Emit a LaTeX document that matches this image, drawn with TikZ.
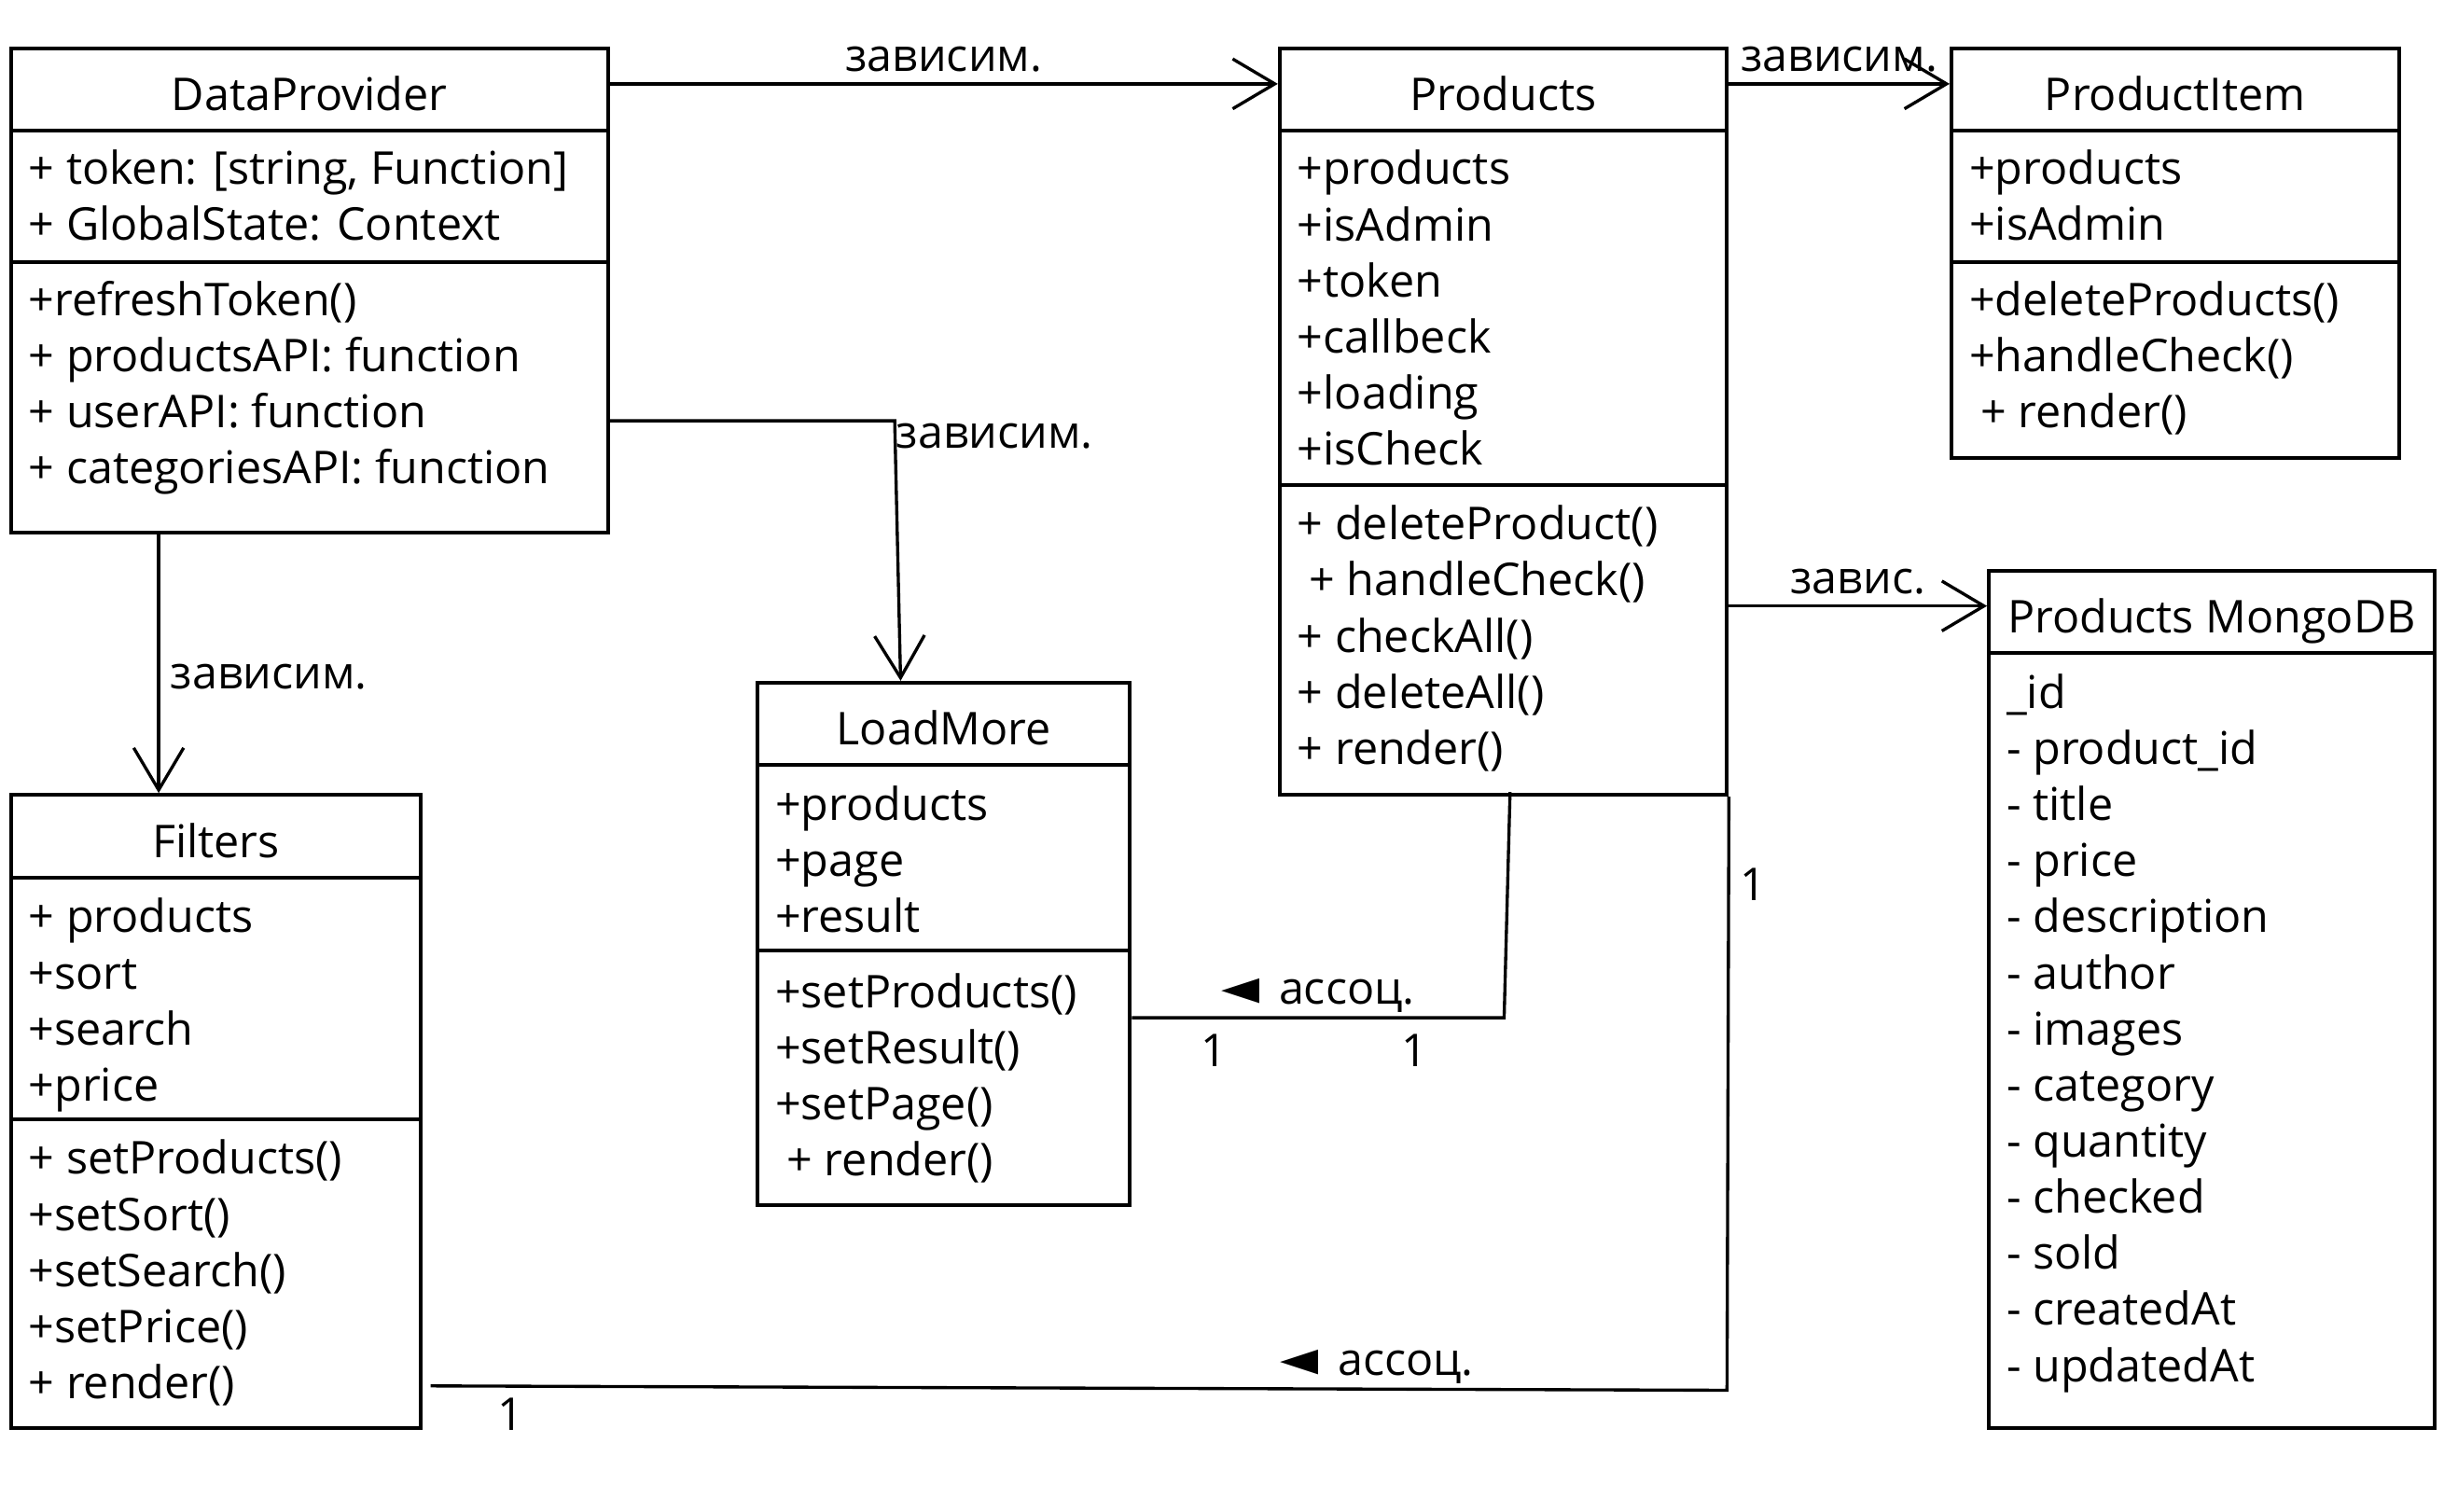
\documentclass[tikz,border=0pt]{standalone}
\usepackage{fontspec}
\setmainfont{Open Sans}
\newfontfamily\symfont{DejaVu Sans}
\usetikzlibrary{arrows.meta,calc,fit}

\begin{document}
\begin{tikzpicture}[x=0.5pt, y=-0.5pt,
    font=\fontsize{14.5}{18}\selectfont,
    box/.style={draw, line width=1.2pt, inner sep=0pt},
    sep/.style={line width=1.2pt},
    title/.style={anchor=base, inner sep=0pt},
    rows/.style={anchor=north west, align=left, inner sep=0pt},
    dep/.style={line width=1pt, -{Straight Barb[length=13.5pt, width=16pt]}},
    assoc/.style={line width=1pt},
    lbl/.style={inner sep=0.3333em}]
  \useasboundingbox (0,0) rectangle (1568,970);

  % class boxes
  \node [box, fit={(7,31) (390,342)}] (dp) {};
  \node [box, fit={(821,31) (1108,510)}] (pr) {};
  \node [box, fit={(1252,31) (1539,294)}] (pi) {};
  \node [box, fit={(1276,366) (1562,916)}] (mg) {};
  \node [box, fit={(7,510) (270,916)}] (fl) {};
  \node [box, fit={(486,438) (725,773)}] (lm) {};

  \draw [sep] (7,84) -- (390,84);
  \draw [sep] (7,168) -- (390,168);
  \draw [sep] (821,84) -- (1108,84);
  \draw [sep] (821,311) -- (1108,311);
  \draw [sep] (1252,84) -- (1539,84);
  \draw [sep] (1252,168) -- (1539,168);
  \draw [sep] (1276,419) -- (1562,419);
  \draw [sep] (7,563) -- (270,563);
  \draw [sep] (7,718) -- (270,718);
  \draw [sep] (486,491) -- (725,491);
  \draw [sep] (486,610) -- (725,610);

  % DataProvider
  \node [title] (dp-t) at (198.5,71) {DataProvider};
  \node [rows] (dp-a) at (18,92.8) {\strut + token: [string, Function]\\+ GlobalState: Context};
  \node [rows] (dp-m) at (18,176.8) {\strut +refreshToken()\\+ productsAPI: function\\+ userAPI: function\\+ categoriesAPI: function};

  % Products
  \node [title] (pr-t) at (964.5,71) {Products};
  \node [rows] (pr-a) at (832,92.8) {\strut +products\\+isAdmin\\+token\\+callbeck\\+loading\\+isCheck};
  \node [rows] (pr-m) at (832,320.8) {\strut + deleteProduct()\\\ + handleCheck()\\+ checkAll()\\+ deleteAll()\\+ render()};

  % ProductItem
  \node [title] (pi-t) at (1395.5,71) {ProductItem};
  \node [rows] (pi-a) at (1263,92.8) {\strut +products\\+isAdmin};
  \node [rows] (pi-m) at (1263,176.8) {\strut +deleteProducts()\\+handleCheck()\\\ + render()};

  % Products MongoDB
  \node [title] (mg-t) at (1419,406) {Products MongoDB};
  \node [rows] (mg-a) at (1287,428.8) {\strut \_id\\- product\_id\\- title\\- price\\- description\\- author\\- images\\- category\\- quantity\\- checked\\- sold\\- createdAt\\- updatedAt};

  % Filters
  \node [title] (fl-t) at (138.5,550) {Filters};
  \node [rows] (fl-a) at (18,572.8) {\strut + products\\+sort\\+search\\+price};
  \node [rows] (fl-m) at (18,727.8) {\strut + setProducts()\\+setSort()\\+setSearch()\\+setPrice()\\+ render()};

  % LoadMore
  \node [title] (lm-t) at (605.5,478) {LoadMore};
  \node [rows] (lm-a) at (497,500.8) {\strut +products\\+page\\+result};
  \node [rows] (lm-m) at (497,620.8) {\strut +setProducts()\\+setResult()\\+setPage()\\\ + render()};

  % dependencies
  \draw [dep] ($(dp.north east)+(0,24)$) -- node [lbl, above] (l1) {зависим.} ($(pr.north west)+(0,24)$);
  \draw [dep] ($(pr.north east)+(0,24)$) -- node [lbl, above] (l2) {зависим.} ($(pi.north west)+(0,24)$);
  \coordinate (c1) at (574,270);
  \draw [dep] (dp.east |- c1) -- (c1) node [anchor=north west, inner sep=0pt, yshift=-0.5pt] (l3) {зависим.} -- ($(lm.north west)+(93,0)$);
  \draw [dep] ($(dp.south west)+(96,0)$) -- node [lbl, right, pos=0.55] (l4) {зависим.} ($(fl.north west)+(96,0)$);
  \coordinate (c2) at ($(mg.north west)+(0,24)$);
  \draw [dep] (pr.east |- c2) -- node [lbl, above] (l5) {завис.} (c2);

  % associations
  \coordinate (c3) at (965,653);
  \draw [assoc] ($(pr.south west)+(149,-3)$) -- (c3)
    -- node [lbl, above, yshift=-2pt] (l6) {{\symfont\fontsize{16}{18}\selectfont ◄}\, ассоц.}
       node [lbl, below, pos=0.24, yshift=-1.5pt] (m1) {1}
       node [lbl, below, pos=0.78, yshift=-1.5pt] (m2) {1} (lm.east |- c3);
  \coordinate (c4) at (1108,892);
  \draw [assoc] ($(fl.south east)+(5,-28)$)
    -- node [lbl, above, pos=0.73, yshift=-2pt] (l7) {{\symfont\fontsize{16}{18}\selectfont ◄}\, ассоц.}
       node [lbl, below, pos=0.062] (m3) {1} (c4)
    -- node [lbl, right, pos=0.853] (m4) {1} (pr.south east);
\end{tikzpicture}
\end{document}
